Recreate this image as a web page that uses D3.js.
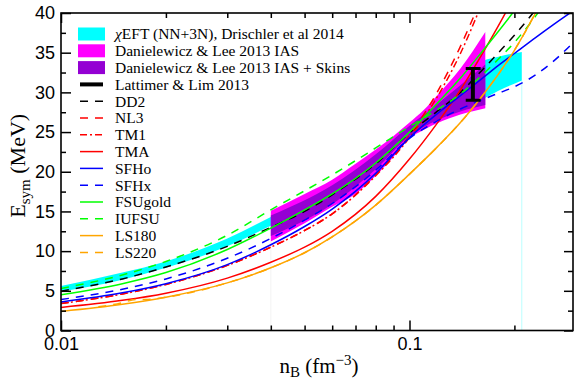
<!DOCTYPE html>
<html>
<head>
<meta charset="utf-8">
<script src="https://cdn.jsdelivr.net/npm/d3@7"></script>
<style>
  body { margin: 0; background: #fff; }
  svg { display: block; }
  .tick text { font-family: "Liberation Sans", Arial, sans-serif; font-size: 18px; fill: #000; }
  .legend-label { font-family: "Liberation Serif", "Times New Roman", serif; font-size: 15.5px; }
</style>
</head>
<body>
<div id="chart"></div>
<script>
// density grid shared by the model curves (fm^-3)
const density = [0.01, 0.015, 0.02, 0.03, 0.04, 0.05, 0.06, 0.08, 0.1, 0.12, 0.14, 0.16, 0.18, 0.2, 0.23, 0.26, 0.3];

// E_sym (MeV) per model, null = off the chart
const dd2     = [4.95, 6.5, 8.0, 10.6, 13.0, 15.0, 17.1, 21.0, 24.9, 27.6, 30.0, 32.6, 35.0, 37.2, 40.4, 43.5, null];
const nl3     = [3.4, 4.6, 5.8, 8.2, 10.5, 12.6, 14.7, 19.6, 24.6, 30.0, 35.8, 41.6, null, null, null, null, null];
const tm1     = [3.4, 4.6, 5.8, 8.2, 10.5, 12.6, 14.7, 19.5, 24.3, 29.4, 34.9, 40.8, null, null, null, null, null];
const tma     = [2.9, 3.8, 4.7, 6.6, 8.6, 10.5, 12.5, 16.9, 21.6, 26.1, 30.3, 34.5, 38.4, 42.1, null, null, null];
const sfho    = [3.6, 4.75, 5.9, 8.3, 10.8, 13.1, 15.3, 19.8, 24.3, 27.3, 29.6, 31.6, 33.4, 34.9, 36.9, 38.6, 40.5];
const sfhx    = [3.9, 5.2, 6.5, 9.1, 11.6, 13.9, 16.0, 20.2, 24.2, 26.4, 27.9, 29.0, 29.9, 30.7, 32.2, 34.0, 36.6];
const fsugold = [4.5, 5.9, 7.3, 10.2, 12.9, 15.2, 17.2, 21.1, 25.0, 28.6, 31.8, 34.9, 37.7, 40.3, 44.0, null, null];
const iufsu   = [5.3, 7.0, 8.7, 12.0, 15.2, 17.6, 19.6, 23.0, 25.7, 27.8, 29.8, 32.0, 34.2, 36.3, 39.6, 43.0, null];
const ls180   = [2.4, 3.3, 4.2, 6.0, 7.9, 9.8, 11.8, 15.8, 19.7, 23.1, 26.2, 29.3, 32.3, 35.3, 40.0, 44.5, null];

// LS220 has its own grid (small bump at low density)
const ls220Density = [0.0128, 0.0145, 0.0165, 0.0175, 0.02, 0.03, 0.04, 0.05, 0.06, 0.08, 0.1, 0.12, 0.14, 0.16, 0.18, 0.2, 0.23, 0.26];
const ls220        = [3.0, 3.35, 3.9, 3.9, 4.2, 6.0, 7.9, 9.8, 11.8, 15.8, 19.7, 23.1, 26.2, 29.3, 32.3, 35.3, 40.0, 44.5];

// chiral EFT band
const eftDensity = [0.01, 0.015, 0.02, 0.03, 0.04, 0.06, 0.08, 0.1, 0.12, 0.14, 0.16, 0.18, 0.21];
const eftLow     = [4.9, 6.4, 7.9, 10.6, 13.2, 17.0, 21.0, 24.7, 26.4, 27.6, 29.0, 30.2, 31.5];
const eftHigh    = [5.6, 7.3, 8.7, 11.6, 14.3, 18.3, 22.4, 25.8, 28.6, 31.2, 33.8, 34.5, 35.1];

// Danielewicz & Lee IAS band
const iasDensity = [0.04, 0.05, 0.06, 0.07, 0.08, 0.09, 0.1, 0.11, 0.12, 0.14, 0.165];
const iasLow     = [11.2, 13.5, 15.6, 17.2, 19.5, 21.9, 24.2, 25.3, 26.1, 27.2, 28.0];
const iasHigh    = [15.1, 17.2, 19.0, 21.0, 22.8, 24.5, 26.2, 27.8, 29.6, 33.0, 37.6];

// Danielewicz & Lee IAS + skins band
const skinDensity = [0.04, 0.06, 0.08, 0.1, 0.12, 0.14, 0.165];
const skinLow     = [11.9, 15.9, 20.3, 24.5, 26.5, 27.6, 28.4];
const skinHigh    = [14.5, 18.3, 22.2, 25.8, 28.5, 30.9, 33.5];

// Lattimer & Lim 2013
const llDensity = [0.145, 0.152, 0.16];
const llRange   = [29.0, 33.0];

const xTicksMajor = [0.01, 0.1];
const yTicksMajor = [0, 5, 10, 15, 20, 25, 30, 35, 40];

const W = 574, H = 379;
const margin = { top: 13, right: 1, bottom: 48.5, left: 61 };
const width = W - margin.left - margin.right;
const height = H - margin.top - margin.bottom;

const svg = d3.select('#chart').append('svg')
  .attr('width', W)
  .attr('height', H);

const x = d3.scaleLog()
  .domain([0.01, Math.pow(10, -2 + width / 348.5)])
  .range([0, width]);
const y = d3.scaleLinear().domain([0, 40]).range([height, 0]);

const g = svg.append('g').attr('transform', 'translate(' + margin.left + ',' + margin.top + ')');

svg.append('defs').append('clipPath').attr('id', 'clip')
  .append('rect').attr('width', width).attr('height', height);

const plot = g.append('g').attr('clip-path', 'url(#clip)');

function band(xs, lo, hi, color) {
  const area = d3.area()
    .x((d, i) => x(xs[i]))
    .y0((d, i) => y(lo[i]))
    .y1((d, i) => y(hi[i]))
    .curve(d3.curveMonotoneX);
  plot.append('path').datum(xs).attr('d', area).attr('fill', color).attr('stroke', 'none');
}

// faint edge lines left by the bands
plot.append('line')
  .attr('x1', x(eftDensity[eftDensity.length - 1])).attr('x2', x(eftDensity[eftDensity.length - 1]))
  .attr('y1', y(eftLow[eftLow.length - 1])).attr('y2', y(0))
  .attr('stroke', '#00ffff').attr('stroke-opacity', 0.35).attr('stroke-width', 0.8);
plot.append('line')
  .attr('x1', x(iasDensity[0])).attr('x2', x(iasDensity[0]))
  .attr('y1', y(iasLow[0])).attr('y2', y(0))
  .attr('stroke', '#999').attr('stroke-opacity', 0.15).attr('stroke-width', 0.8);

band(eftDensity, eftLow, eftHigh, '#00ffff');
band(iasDensity, iasLow, iasHigh, '#ff00ff');
band(skinDensity, skinLow, skinHigh, '#9400d3');

const series = [
  { name: 'DD2', xs: density, ys: dd2, color: '#000000', dash: '8,7' },
  { name: 'NL3', xs: density, ys: nl3, color: '#ff0000', dash: '8,7' },
  { name: 'TM1', xs: density, ys: tm1, color: '#ff0000', dash: '7,3,2,3' },
  { name: 'TMA', xs: density, ys: tma, color: '#ff0000', dash: null },
  { name: 'SFHo', xs: density, ys: sfho, color: '#0000ff', dash: null },
  { name: 'SFHx', xs: density, ys: sfhx, color: '#0000ff', dash: '8,7' },
  { name: 'FSUgold', xs: density, ys: fsugold, color: '#00ff00', dash: null },
  { name: 'IUFSU', xs: density, ys: iufsu, color: '#00ff00', dash: '8,7' },
  { name: 'LS180', xs: density, ys: ls180, color: '#ffa500', dash: null },
  { name: 'LS220', xs: ls220Density, ys: ls220, color: '#ffa500', dash: '8,7' }
];

series.forEach(s => {
  const line = d3.line()
    .defined((d, i) => s.ys[i] != null)
    .x((d, i) => x(s.xs[i]))
    .y((d, i) => y(s.ys[i]))
    .curve(d3.curveMonotoneX);
  plot.append('path').datum(s.xs)
    .attr('d', line)
    .attr('fill', 'none')
    .attr('stroke', s.color)
    .attr('stroke-width', 1.5)
    .attr('stroke-dasharray', s.dash);
});

// Lattimer & Lim I-beam
plot.append('line')
  .attr('x1', x(llDensity[1])).attr('x2', x(llDensity[1]))
  .attr('y1', y(llRange[0])).attr('y2', y(llRange[1]))
  .attr('stroke', '#000').attr('stroke-width', 4);
llRange.forEach(v => {
  plot.append('line')
    .attr('x1', x(llDensity[0])).attr('x2', x(llDensity[2]))
    .attr('y1', y(v)).attr('y2', y(v))
    .attr('stroke', '#000').attr('stroke-width', 3);
});

// minor ticks
const xMinor = [];
[0.01, 0.1].forEach(d => { for (let k = 2; k <= 9; k++) if (d * k < x.domain()[1]) xMinor.push(d * k); });
const yMinor = d3.range(2.5, 40, 5);

// axes (ticks point inward)
g.append('g').attr('transform', 'translate(0,' + height + ')')
  .call(d3.axisBottom(x).tickValues(xTicksMajor).tickFormat(d3.format('')).tickSize(-10).tickPadding(7));
g.append('g').attr('transform', 'translate(0,' + height + ')')
  .call(d3.axisBottom(x).tickValues(xMinor).tickFormat('').tickSize(-5));
g.append('g')
  .call(d3.axisTop(x).tickValues(xTicksMajor).tickFormat('').tickSize(-10));
g.append('g')
  .call(d3.axisTop(x).tickValues(xMinor).tickFormat('').tickSize(-5));
g.append('g')
  .call(d3.axisLeft(y).tickValues(yTicksMajor).tickSize(-10).tickPadding(6));
g.append('g')
  .call(d3.axisLeft(y).tickValues(yMinor).tickFormat('').tickSize(-5));
g.append('g').attr('transform', 'translate(' + width + ',0)')
  .call(d3.axisRight(y).tickValues(yTicksMajor).tickFormat('').tickSize(-9));
g.append('g').attr('transform', 'translate(' + width + ',0)')
  .call(d3.axisRight(y).tickValues(yMinor).tickFormat('').tickSize(-5));

g.selectAll('.domain').remove();
g.selectAll('.tick line').attr('stroke', '#000').attr('stroke-width', 1.5);

g.append('rect')
  .attr('width', width).attr('height', height)
  .attr('fill', 'none').attr('stroke', '#000').attr('stroke-width', 1.6);

// axis titles
const serif = '"Liberation Serif", "Times New Roman", serif';
const ylab = svg.append('text')
  .attr('transform', 'translate(25,' + (margin.top + height / 2 - 6) + ') rotate(-90)')
  .attr('text-anchor', 'middle')
  .style('font-family', serif).style('font-size', '22px');
ylab.append('tspan').text('E');
ylab.append('tspan').attr('dy', 5).style('font-size', '15px').text('sym');
ylab.append('tspan').attr('dy', -5).text(' (MeV)');

const xlab = svg.append('text')
  .attr('x', 319).attr('y', 373)
  .attr('text-anchor', 'middle')
  .style('font-family', serif).style('font-size', '21px');
xlab.append('tspan').text('n');
xlab.append('tspan').attr('dy', 4).style('font-size', '15px').text('B');
xlab.append('tspan').attr('dy', -4).text(' (fm');
xlab.append('tspan').attr('dy', -8).style('font-size', '15px').text('\u22123');
xlab.append('tspan').attr('dy', 8).text(')');

// legend
const legend = g.append('g');
const rowY = i => 21 + i * 16.8;
const legendItems = [
  { label: 'EFT (NN+3N), Drischler et al 2014', type: 'rect', color: '#00ffff', chi: true },
  { label: 'Danielewicz & Lee 2013 IAS', type: 'rect', color: '#ff00ff' },
  { label: 'Danielewicz & Lee 2013 IAS + Skins', type: 'rect', color: '#9400d3' },
  { label: 'Lattimer & Lim 2013', type: 'line', color: '#000', width: 4, dash: null }
].concat(series.map(s => ({ label: s.name, type: 'line', color: s.color, width: 1.5, dash: s.dash })));

legendItems.forEach((d, i) => {
  const cy = rowY(i);
  if (d.type === 'rect') {
    legend.append('rect')
      .attr('x', 17).attr('y', cy - 6.5).attr('width', 27).attr('height', 13)
      .attr('fill', d.color);
  } else {
    legend.append('line')
      .attr('x1', 19).attr('x2', 42).attr('y1', cy).attr('y2', cy)
      .attr('stroke', d.color).attr('stroke-width', d.width)
      .attr('stroke-dasharray', d.dash);
  }
  const t = legend.append('text')
    .attr('class', 'legend-label')
    .attr('x', 54).attr('y', cy).attr('dy', '0.35em');
  if (d.chi) t.append('tspan').style('font-style', 'italic').text('\u03c7');
  t.append('tspan').text(d.label);
});
</script>
</body>
</html>
